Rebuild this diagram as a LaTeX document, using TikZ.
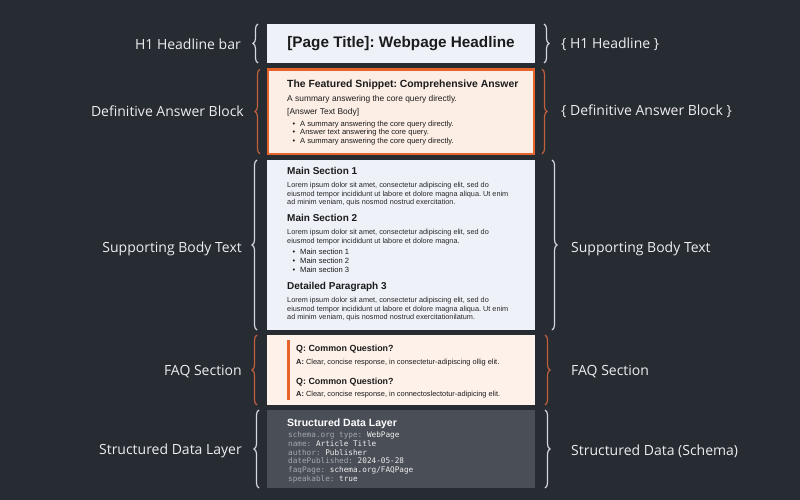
\documentclass[tikz,border=0pt]{standalone}
\usepackage{fontspec}
\setmainfont{Liberation Sans}
\newfontfamily\labfont{Open Sans}
\setmonofont{DejaVu Sans Mono}
\usetikzlibrary{decorations.pathreplacing}
\definecolor{bg}{HTML}{272B32}
\definecolor{paper}{HTML}{EEF1F7}
\definecolor{peach}{HTML}{FDEEE5}
\definecolor{orng}{HTML}{E4642C}
\definecolor{braceor}{HTML}{C0603E}
\definecolor{bracewh}{HTML}{D5D8DE}
\definecolor{slate}{HTML}{4A4E56}
\definecolor{keygray}{HTML}{A4A8AF}
\definecolor{ink}{HTML}{1B1B1B}
\definecolor{labwhite}{HTML}{EDEEF0}
\frenchspacing
\begin{document}
\begin{tikzpicture}[x=1pt,y=-1pt,
  box/.style={anchor=north west, inner sep=0pt, outer sep=0pt},
  lbl/.style={font=\labfont\fontsize{14}{16}\selectfont, text=labwhite, inner sep=0pt},
  lblL/.style={lbl, anchor=east},
  lblR/.style={lbl, anchor=west},
  txt/.style={anchor=base west, inner sep=0pt, text=ink},
  head/.style={txt, font=\bfseries\fontsize{10}{12}\selectfont},
  body/.style={txt, font=\fontsize{7.3}{8}\selectfont, text=ink!95!white},
  bul/.style={txt, font=\fontsize{7.6}{8}\selectfont},
  mono/.style={anchor=base west, inner sep=0pt, font=\ttfamily\fontsize{7.7}{9}\selectfont, text=white!94!black},
  bracewhite/.style={draw=bracewh, line width=1.2pt, decorate, decoration={brace, amplitude=5pt}},
  braceorange/.style={draw=braceor, line width=1.2pt, decorate, decoration={brace, amplitude=5pt}}
]
% background
\fill[bg] (0,0) rectangle (800,500);
\useasboundingbox (0,0) rectangle (800,500);

% ---------- boxes ----------
\node[box, fill=paper, minimum width=268pt, minimum height=39pt] (h1) at (267,24) {};
\node[box, fill=peach, draw=orng, line width=2.6pt, minimum width=266pt, minimum height=84.5pt] (ans) at (268,69.3) {};
\node[box, fill=paper, minimum width=268pt, minimum height=170pt] (sup) at (267,160) {};
\node[box, fill=peach!80!white, minimum width=268pt, minimum height=70pt] (faq) at (267,335) {};
\node[box, fill=slate, minimum width=268pt, minimum height=78pt] (sd) at (267,410) {};

% ---------- H1 ----------
\node[inner sep=0pt, font=\bfseries\fontsize{15.3}{18}\selectfont, text=ink] (h1t) at (401,44) {[Page Title]: Webpage Headline};

% ---------- answer block ----------
\node[txt, font=\bfseries\fontsize{10.4}{12}\selectfont] (a1) at (287,88) {The Featured Snippet: Comprehensive Answer};
\node[txt, font=\fontsize{8.4}{9}\selectfont] (a2) at (287,102) {A summary answering the core query directly.};
\node[txt, font=\fontsize{8.4}{9}\selectfont] (a3) at (287,114.5) {[Answer Text Body]};
\node[bul] (a4) at (292.5,126.6) {\makebox[7.5pt][l]{\textbullet}A summary answering the core query directly.};
\node[bul] (a5) at (292.5,135) {\makebox[7.5pt][l]{\textbullet}Answer text answering the core query.};
\node[bul] (a6) at (292.5,143.6) {\makebox[7.5pt][l]{\textbullet}A summary answering the core query directly.};

% ---------- supporting body ----------
\node[head] (s1) at (287,174.6) {Main Section 1};
\node[body] (s1a) at (287,187.5) {Lorem ipsum dolor sit amet, consectetur adipiscing elit, sed do};
\node[body] (s1b) at (287,196) {eiusmod tempor incididunt ut labore et dolore magna aliqua. Ut enim};
\node[body] (s1c) at (287,204.5) {ad minim veniam, quis nosmod nostrud exercitation.};
\node[head] (s2) at (287,221.6) {Main Section 2};
\node[body] (s2a) at (287,234.5) {Lorem ipsum dolor sit amet, consectetur adipiscing elit, sed do};
\node[body] (s2b) at (287,243) {eiusmod tempor incididunt ut labore et dolore magna.};
\node[bul] (s2c) at (292.5,254.5) {\makebox[7.5pt][l]{\textbullet}Main section 1};
\node[bul] (s2d) at (292.5,263.5) {\makebox[7.5pt][l]{\textbullet}Main section 2};
\node[bul] (s2e) at (292.5,272.5) {\makebox[7.5pt][l]{\textbullet}Main section 3};
\node[head] (s3) at (287,289.6) {Detailed Paragraph 3};
\node[body] (s3a) at (287,302.5) {Lorem ipsum dolor sit amet, consectetur adipiscing elit, sed do};
\node[body] (s3b) at (287,311) {eiusmod tempor incididunt ut labore et dolore magna aliqua. Ut enim};
\node[body] (s3c) at (287,319.5) {ad minim veniam, quis nosmod nostrud exercitationilatum.};

% ---------- FAQ ----------
\fill[orng] (286.5,340) rectangle (289.5,400);
\node[txt, font=\bfseries\fontsize{8.9}{10}\selectfont] (q1) at (296,351) {Q: Common Question?};
\node[txt, font=\fontsize{7.4}{8}\selectfont] (r1) at (296,364.5) {\textbf{A:} Clear, concise response, in consectetur-adipiscing ollig elit.};
\node[txt, font=\bfseries\fontsize{8.9}{10}\selectfont] (q2) at (296,384) {Q: Common Question?};
\node[txt, font=\fontsize{7.4}{8}\selectfont] (r2) at (296,396.5) {\textbf{A:} Clear, concise response, in connectoslectotur-adipicing elit.};

% ---------- structured data ----------
\node[anchor=base west, inner sep=0pt, font=\bfseries\fontsize{10.5}{12}\selectfont, text=white] (d0) at (287,426) {Structured Data Layer};
\node[mono] (d1) at (288,437) {\textcolor{keygray}{schema.org type:} WebPage};
\node[mono] (d2) at (288,446) {\textcolor{keygray}{name:} Article Title};
\node[mono] (d3) at (288,455) {\textcolor{keygray}{author:} Publisher};
\node[mono] (d4) at (288,463.5) {\textcolor{keygray}{datePublished:} 2024-05-28};
\node[mono] (d5) at (288,472.5) {\textcolor{keygray}{faqPage:} schema.org/FAQPage};
\node[mono] (d6) at (288,481.5) {\textcolor{keygray}{speakable:} true};

% ---------- left braces ----------
\draw[bracewhite]  ([xshift=-9pt]h1.south west)  -- ([xshift=-9pt]h1.north west);
\draw[braceorange] ([xshift=-8pt]ans.south west) -- ([xshift=-8pt]ans.north west);
\draw[bracewhite]  ([xshift=-10pt]sup.south west) -- ([xshift=-10pt]sup.north west);
\draw[braceorange] ([xshift=-10pt]faq.south west) -- ([xshift=-10pt]faq.north west);
\draw[bracewhite]  ([xshift=-8pt]sd.south west)  -- ([xshift=-8pt]sd.north west);

% ---------- right braces ----------
\draw[bracewhite]  ([xshift=9pt]h1.north east)  -- ([xshift=9pt]h1.south east);
\draw[braceorange] ([xshift=8pt]ans.north east) -- ([xshift=8pt]ans.south east);
\draw[bracewhite]  ([xshift=17pt]sup.north east) -- ([xshift=17pt]sup.south east);
\draw[braceorange] ([xshift=10pt]faq.north east) -- ([xshift=10pt]faq.south east);
\draw[bracewhite]  ([xshift=10pt]sd.north east)  -- ([xshift=10pt]sd.south east);

% ---------- left labels ----------
\node[lblL] (lh1)  at (241,44)  {H1 Headline bar};
\node[lblL] (lans) at (244,111) {Definitive Answer Block};
\node[lblL] (lsup) at (242,249) {Supporting Body Text};
\node[lblL] (lfaq) at (242,372) {FAQ Section};
\node[lblL] (lsd)  at (242,451) {Structured Data Layer};

% ---------- right labels ----------
\node[lblR] (rh1)  at (561,44)  {\{ H1 Headline \}};
\node[lblR] (rans) at (561,111) {\{ Definitive Answer Block \}};
\node[lblR] (rsup) at (571,249) {Supporting Body Text};
\node[lblR] (rfaq) at (571,372) {FAQ Section};
\node[lblR] (rsd)  at (571,451) {Structured Data (Schema)};
\end{tikzpicture}
\end{document}
